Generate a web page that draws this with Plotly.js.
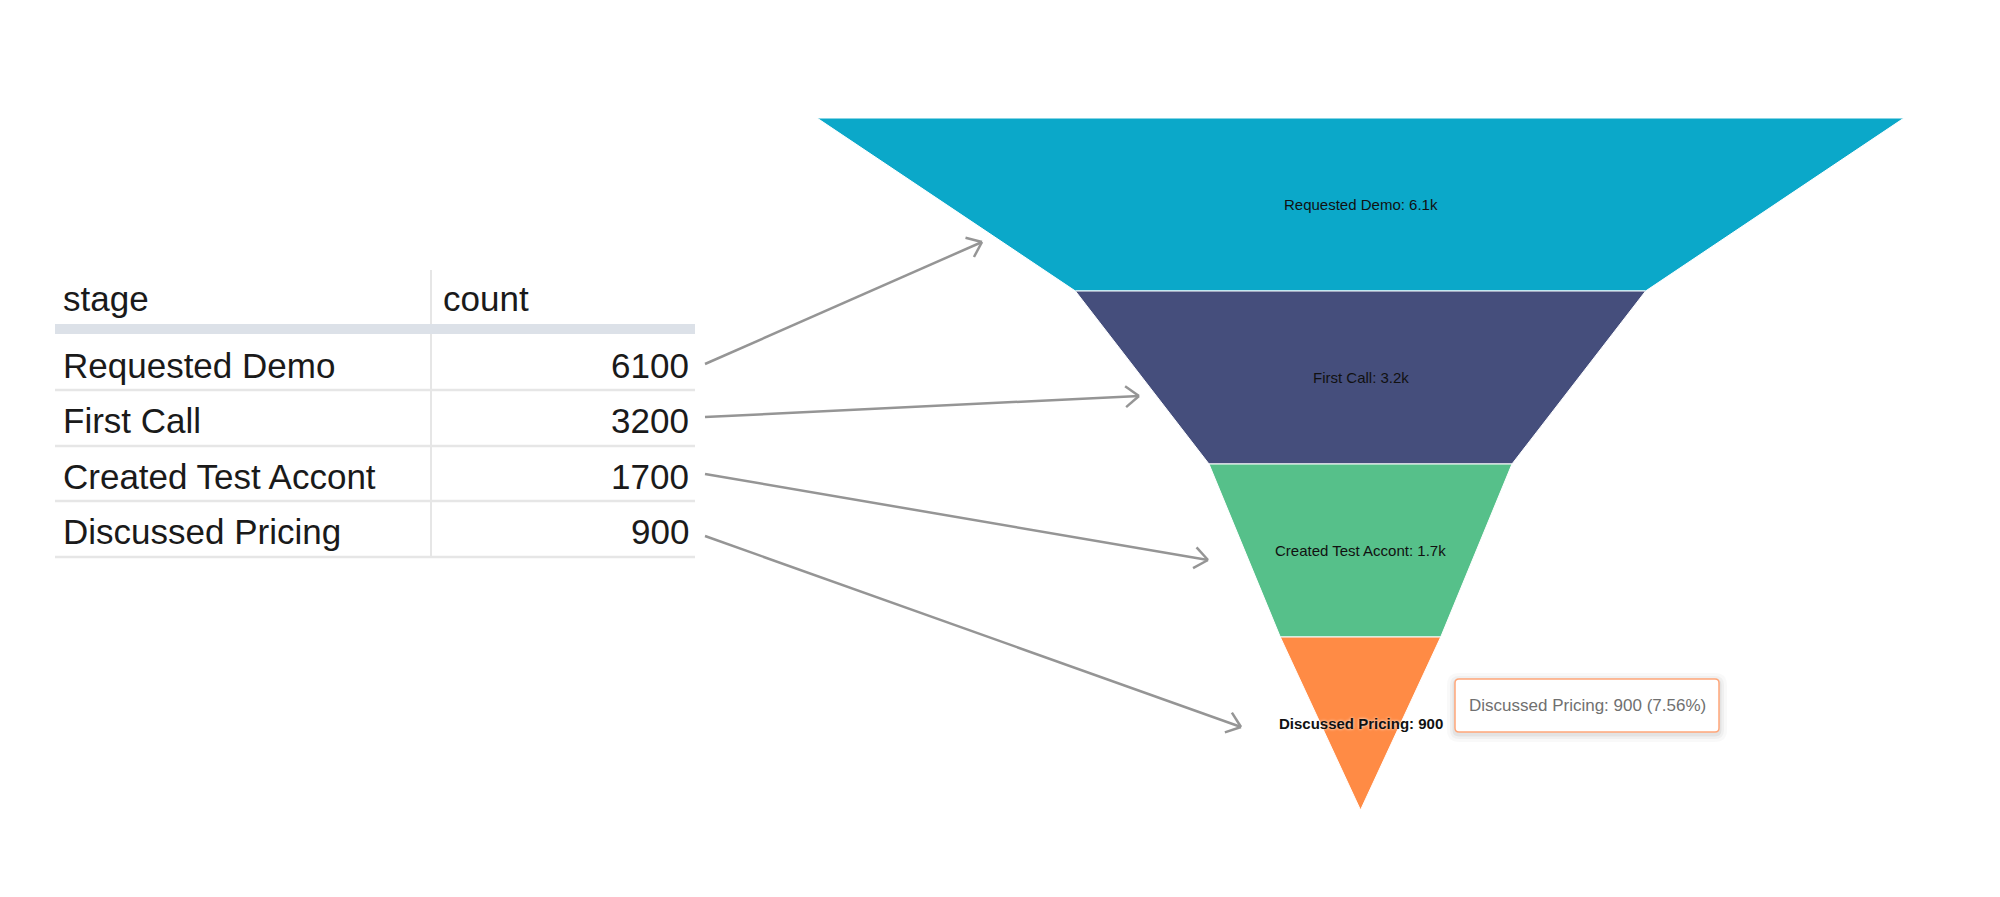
<!DOCTYPE html>
<html><head><meta charset="utf-8">
<script src="https://cdn.plot.ly/plotly-3.0.1.min.js"></script>
<style>html,body{margin:0;padding:0;background:#fff;overflow:hidden}#chart{width:2000px;height:897px}</style>
</head><body><div id="chart"></div>
<script>
// ---- data ----
const stages = ['Requested Demo', 'First Call', 'Created Test Accont', 'Discussed Pricing'];
const counts = [6100, 3200, 1700, 900];
const colors = ['#0BA8C9', '#454E7C', '#56C08A', '#FF8B45'];
const tableHeader = ['stage', 'count'];
const highlighted = 3;

// ---- helpers ----
const W = 2000, H = 897;
const X = p => p / W, Y = p => 1 - p / H;
const n = stages.length;
const total = counts.reduce((a, b) => a + b, 0);
const fmt = v => v >= 1000 ? (v / 1000).toFixed(1).replace(/\.0$/, '') + 'k' : String(v);
const FONT = 'Liberation Sans, Arial, Helvetica, sans-serif';

// ---- funnel polygons (width proportional to value, equal heights) ----
const traces = stages.map((s, i) => {
  const top = counts[i] / 2, bot = i < n - 1 ? counts[i + 1] / 2 : 0;
  const yt = n - i, yb = n - i - 1;
  return {
    type: 'scatter', mode: 'lines', name: s,
    x: [-top, top, bot, -bot, -top], y: [yt, yt, yb, yb, yt],
    fill: 'toself', fillcolor: colors[i],
    line: {color: '#ffffff', width: 1},
    hoverinfo: 'skip', showlegend: false, xaxis: 'x', yaxis: 'y'
  };
});

const annotations = [];
const shapes = [];

// funnel labels
stages.forEach((s, i) => {
  const hi = i === highlighted;
  annotations.push({
    xref: 'x', yref: 'y', x: 0, y: n - i - 0.5, showarrow: false,
    text: `${s}: ${fmt(counts[i])}`,
    font: {family: FONT, size: 15, color: '#111', weight: hi ? 'bold' : 'normal',
           shadow: hi ? '0px 0px 3px #ffffff' : 'none'}
  });
});

// ---- table ----
const tblLeft = 55, tblRight = 695, colDiv = 431;
const headerY = 298, rowY = [365, 420, 476, 531], rowLines = [390, 446, 501, 557];
const lineGrey = '#E6E6E6';
shapes.push({type: 'line', xref: 'paper', yref: 'paper', x0: X(colDiv), x1: X(colDiv), y0: Y(270), y1: Y(557),
  line: {color: lineGrey, width: 2}});
shapes.push({type: 'rect', xref: 'paper', yref: 'paper', x0: X(tblLeft), x1: X(tblRight), y0: Y(334), y1: Y(324),
  fillcolor: '#DCE1E8', line: {width: 0}});
rowLines.forEach(py => shapes.push({type: 'line', xref: 'paper', yref: 'paper', x0: X(tblLeft), x1: X(tblRight),
  y0: Y(py), y1: Y(py), line: {color: lineGrey, width: 2.5}}));

const tFont = {family: FONT, size: 35, color: '#1a1a1a'};
annotations.push({xref: 'paper', yref: 'paper', x: X(61), y: Y(headerY), xanchor: 'left', yanchor: 'middle',
  showarrow: false, text: tableHeader[0], font: tFont});
annotations.push({xref: 'paper', yref: 'paper', x: X(441), y: Y(headerY), xanchor: 'left', yanchor: 'middle',
  showarrow: false, text: tableHeader[1], font: tFont});
stages.forEach((s, i) => {
  annotations.push({xref: 'paper', yref: 'paper', x: X(61), y: Y(rowY[i]), xanchor: 'left', yanchor: 'middle',
    showarrow: false, text: s, font: tFont});
  annotations.push({xref: 'paper', yref: 'paper', x: X(691), y: Y(rowY[i]), xanchor: 'right', yanchor: 'middle',
    showarrow: false, text: String(counts[i]), font: tFont});
});

// ---- arrows from table to funnel ----
const arrowStart = [[705, 364], [705, 417], [705, 474], [705, 536]];
const arrowEnd = [[982, 242], [1139, 396], [1208, 560], [1241, 727]];
const arrowCol = '#959595';
arrowStart.forEach((s, i) => {
  const e = arrowEnd[i];
  shapes.push({type: 'line', xref: 'paper', yref: 'paper', x0: X(s[0]), y0: Y(s[1]), x1: X(e[0]), y1: Y(e[1]),
    line: {color: arrowCol, width: 2.5}});
  const dx = e[0] - s[0], dy = e[1] - s[1], L = Math.hypot(dx, dy);
  const ux = dx / L, uy = dy / L, arm = 17, th = 38 * Math.PI / 180;
  [th, -th].forEach(a => {
    const rx = ux * Math.cos(a) - uy * Math.sin(a), ry = ux * Math.sin(a) + uy * Math.cos(a);
    shapes.push({type: 'line', xref: 'paper', yref: 'paper', x0: X(e[0]), y0: Y(e[1]),
      x1: X(e[0] - arm * rx), y1: Y(e[1] - arm * ry), line: {color: arrowCol, width: 2.5}});
  });
});

// ---- tooltip ----
const tb = {l: 1455, r: 1719, t: 679, b: 732}, rad = 4;
function rrect(l, t, r, b, rr) {
  const P = (x, y) => `${X(x)},${Y(y)}`;
  return `M${P(l + rr, t)} L${P(r - rr, t)} Q${P(r, t)} ${P(r, t + rr)} L${P(r, b - rr)} Q${P(r, b)} ${P(r - rr, b)} ` +
         `L${P(l + rr, b)} Q${P(l, b)} ${P(l, b - rr)} L${P(l, t + rr)} Q${P(l, t)} ${P(l + rr, t)} Z`;
}
[[8, 0.025], [5, 0.035], [2.5, 0.05]].forEach(([g, op]) => shapes.push({type: 'path', xref: 'paper', yref: 'paper',
  path: rrect(tb.l - g, tb.t - g + 2, tb.r + g, tb.b + g + 2, rad + g), fillcolor: '#000', opacity: op, line: {width: 0}}));
shapes.push({type: 'path', xref: 'paper', yref: 'paper', path: rrect(tb.l, tb.t, tb.r, tb.b, rad),
  fillcolor: '#ffffff', line: {color: '#FFA77A', width: 1.5}});
const pct = (counts[highlighted] / total * 100).toFixed(2);
annotations.push({xref: 'paper', yref: 'paper', x: X((tb.l + tb.r) / 2), y: Y((tb.t + tb.b) / 2),
  xanchor: 'center', yanchor: 'middle', showarrow: false,
  text: `${stages[highlighted]}: ${counts[highlighted]} (${pct}%)`,
  font: {family: FONT, size: 17, color: '#707070'}});

const layout = {
  width: W, height: H, margin: {l: 0, r: 0, t: 0, b: 0},
  paper_bgcolor: '#ffffff', plot_bgcolor: 'rgba(0,0,0,0)',
  showlegend: false, hovermode: false,
  xaxis: {domain: [X(817), X(1904)], range: [-counts[0] / 2, counts[0] / 2], visible: false, fixedrange: true},
  yaxis: {domain: [Y(810), Y(118)], range: [0, n], visible: false, fixedrange: true},
  shapes, annotations
};
Plotly.newPlot('chart', traces, layout, {displayModeBar: false, staticPlot: true});
</script>
</body></html>
